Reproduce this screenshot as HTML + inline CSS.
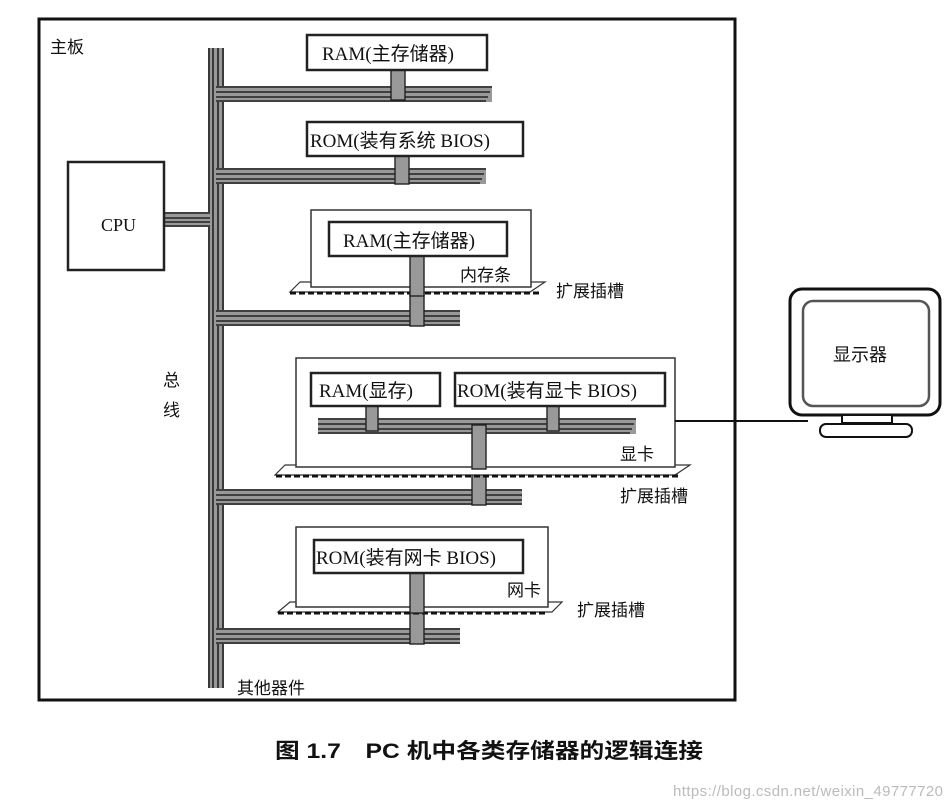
<!DOCTYPE html>
<html><head><meta charset="utf-8"><style>
html,body{margin:0;padding:0;background:#fff;}
svg{display:block;}
text{font-family:"Liberation Serif","Noto Serif CJK SC",serif;fill:#111;}
.cj{font-family:"Liberation Sans","Noto Sans CJK SC",sans-serif;}
</style></head><body>
<svg width="952" height="808" viewBox="0 0 952 808" xmlns="http://www.w3.org/2000/svg">
<defs>
<g id="hb"><rect x="0" y="0" width="1" height="16" fill="#888"/></g>
</defs>
<rect x="0" y="0" width="952" height="808" fill="#fff"/>
<!-- main frame -->
<rect x="39" y="19" width="696" height="681" fill="none" stroke="#111" stroke-width="3"/>
<text x="50" y="53" font-size="17" class="cj">主板</text>

<!-- vertical bus -->
<rect x="208" y="48" width="16" height="640" fill="#999"/>
<g stroke="#222" stroke-width="1.6">
<line x1="209" y1="48" x2="209" y2="688"/><line x1="213" y1="48" x2="213" y2="688"/><line x1="218" y1="48" x2="218" y2="688"/><line x1="223" y1="48" x2="223" y2="688"/>
</g>

<!-- horizontal buses -->
<g>
<rect x="216" y="86" width="276" height="16" fill="#999"/>
<rect x="216" y="168" width="270" height="16" fill="#999"/>
<rect x="216" y="310" width="244" height="16" fill="#999"/>
<rect x="216" y="489" width="306" height="16" fill="#999"/>
<rect x="216" y="628" width="244" height="16" fill="#999"/>
<rect x="162" y="212" width="48" height="15" fill="#999"/>
</g>
<g stroke="#222" stroke-width="1.6">
<line x1="216" y1="87" x2="492" y2="87"/><line x1="216" y1="92" x2="490" y2="92"/><line x1="216" y1="97" x2="488" y2="97"/><line x1="216" y1="101" x2="486" y2="101"/>
<line x1="216" y1="169" x2="486" y2="169"/><line x1="216" y1="174" x2="484" y2="174"/><line x1="216" y1="179" x2="482" y2="179"/><line x1="216" y1="183" x2="480" y2="183"/>
<line x1="216" y1="311" x2="460" y2="311"/><line x1="216" y1="316" x2="460" y2="316"/><line x1="216" y1="321" x2="460" y2="321"/><line x1="216" y1="325" x2="460" y2="325"/>
<line x1="216" y1="490" x2="522" y2="490"/><line x1="216" y1="495" x2="522" y2="495"/><line x1="216" y1="500" x2="522" y2="500"/><line x1="216" y1="504" x2="522" y2="504"/>
<line x1="216" y1="629" x2="460" y2="629"/><line x1="216" y1="634" x2="460" y2="634"/><line x1="216" y1="639" x2="460" y2="639"/><line x1="216" y1="643" x2="460" y2="643"/>
<line x1="164" y1="213" x2="210" y2="213"/><line x1="164" y1="218" x2="210" y2="218"/><line x1="164" y1="222" x2="210" y2="222"/><line x1="164" y1="226" x2="210" y2="226"/>
</g>

<!-- CPU -->
<rect x="68" y="162" width="96" height="108" fill="#fff" stroke="#222" stroke-width="2.5"/>
<text x="101" y="231" font-size="18">CPU</text>
<text x="163" y="386" font-size="17" class="cj">总</text>
<text x="163" y="416" font-size="17" class="cj">线</text>

<!-- vertical stubs -->
<g fill="#999" stroke="#222" stroke-width="1.4">
<rect x="391" y="70" width="14" height="30"/>
<rect x="395" y="156" width="14" height="28"/>
<rect x="410" y="256" width="14" height="70"/>
<rect x="366" y="406" width="12" height="25"/>
<rect x="547" y="406" width="12" height="25"/>
<rect x="472" y="425" width="14" height="80"/>
<rect x="410" y="573" width="14" height="71"/>
</g>

<!-- RAM top -->
<rect x="307" y="35" width="180" height="35" fill="#fff" stroke="#222" stroke-width="2.5"/>
<text x="322" y="60" font-size="19">RAM(<tspan class="cj">主存储器</tspan>)</text>
<!-- ROM system BIOS -->
<rect x="307" y="122" width="216" height="34" fill="#fff" stroke="#222" stroke-width="2.5"/>
<text x="310" y="147" font-size="19">ROM(<tspan class="cj">装有系统</tspan> BIOS)</text>

<!-- memory stick -->
<path d="M300 282 L290 292 L530 292 L545 282 Z" fill="#fff" stroke="#333" stroke-width="1.2"/>
<line x1="290" y1="293" x2="540" y2="293" stroke="#111" stroke-width="3" stroke-dasharray="6,3"/>
<rect x="311" y="210" width="220" height="77" fill="#fff" stroke="#333" stroke-width="1.5"/>
<rect x="410" y="256" width="14" height="40" fill="#999" stroke="#222" stroke-width="1.4"/>
<rect x="329" y="222" width="178" height="34" fill="#fff" stroke="#222" stroke-width="2.5"/>
<text x="343" y="247" font-size="19">RAM(<tspan class="cj">主存储器</tspan>)</text>
<text x="460" y="281" font-size="17" class="cj">内存条</text>
<text x="556" y="297" font-size="17" class="cj">扩展插槽</text>

<!-- video card -->
<path d="M285 465 L275 475 L675 475 L690 465 Z" fill="#fff" stroke="#333" stroke-width="1.2"/>
<line x1="276" y1="476" x2="680" y2="476" stroke="#111" stroke-width="3" stroke-dasharray="6,3"/>
<rect x="296" y="358" width="379" height="109" fill="#fff" stroke="#333" stroke-width="1.5"/>
<rect x="318" y="418" width="318" height="16" fill="#999"/>
<g stroke="#222" stroke-width="1.6">
<line x1="318" y1="419" x2="636" y2="419"/><line x1="318" y1="424" x2="634" y2="424"/><line x1="318" y1="429" x2="632" y2="429"/><line x1="318" y1="433" x2="630" y2="433"/>
</g>
<g fill="#999" stroke="#222" stroke-width="1.4">
<rect x="366" y="406" width="12" height="25"/>
<rect x="547" y="406" width="12" height="25"/>
<rect x="472" y="425" width="14" height="44"/>
</g>
<rect x="311" y="373" width="129" height="33" fill="#fff" stroke="#222" stroke-width="2.5"/>
<text x="319" y="397" font-size="19">RAM(<tspan class="cj">显存</tspan>)</text>
<rect x="455" y="373" width="210" height="33" fill="#fff" stroke="#222" stroke-width="2.5"/>
<text x="457" y="397" font-size="19">ROM(<tspan class="cj">装有显卡</tspan> BIOS)</text>
<text x="620" y="460" font-size="17" class="cj">显卡</text>
<text x="620" y="502" font-size="17" class="cj">扩展插槽</text>

<!-- network card -->
<path d="M290 602 L278 612 L552 612 L562 602 Z" fill="#fff" stroke="#333" stroke-width="1.2"/>
<line x1="278" y1="613" x2="545" y2="613" stroke="#111" stroke-width="3" stroke-dasharray="6,3"/>
<rect x="296" y="527" width="252" height="80" fill="#fff" stroke="#333" stroke-width="1.5"/>
<rect x="410" y="573" width="14" height="40" fill="#999" stroke="#222" stroke-width="1.4"/>
<rect x="314" y="540" width="209" height="33" fill="#fff" stroke="#222" stroke-width="2.5"/>
<text x="316" y="564" font-size="19">ROM(<tspan class="cj">装有网卡</tspan> BIOS)</text>
<text x="507" y="596" font-size="17" class="cj">网卡</text>
<text x="577" y="616" font-size="17" class="cj">扩展插槽</text>
<text x="237" y="694" font-size="17" class="cj">其他器件</text>

<!-- monitor -->
<line x1="675" y1="421" x2="808" y2="421" stroke="#111" stroke-width="2"/>
<rect x="790" y="289" width="150" height="126" rx="12" fill="#fff" stroke="#111" stroke-width="3"/>
<rect x="803" y="301" width="126" height="105" rx="10" fill="none" stroke="#555" stroke-width="2.5"/>
<rect x="842" y="415" width="50" height="8" fill="#fff" stroke="#111" stroke-width="2"/>
<rect x="820" y="424" width="92" height="13" rx="6" fill="#fff" stroke="#111" stroke-width="2"/>
<text x="833" y="361" font-size="18" class="cj">显示器</text>

<!-- caption -->
<text x="275" y="758" font-size="21" font-weight="bold" class="cj" textLength="428" lengthAdjust="spacingAndGlyphs">图 1.7　PC 机中各类存储器的逻辑连接</text>
<text x="673" y="796" font-size="15" class="cj" style="fill:#bbb" textLength="270">https://blog.csdn.net/weixin_49777720</text>
</svg>
</body></html>
